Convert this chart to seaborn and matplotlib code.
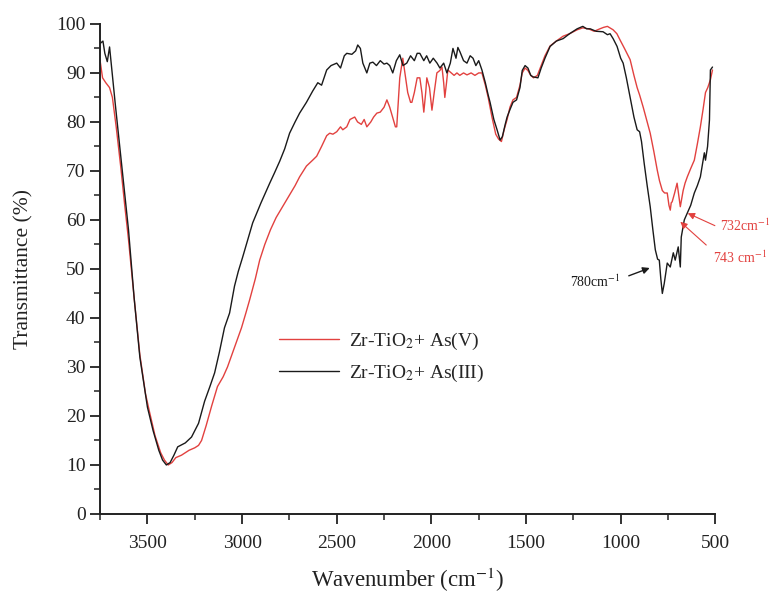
import seaborn as sns
import matplotlib
matplotlib.use("Agg")
import matplotlib.pyplot as plt
from matplotlib.ticker import MultipleLocator
import pandas as pd

# FTIR spectra: wavenumber (cm-1) and transmittance (%)
wn_as3 = [3750, 3735, 3725, 3712, 3700, 3670, 3650, 3630, 3600, 3570, 3540, 3500,
          3470, 3440, 3420, 3400, 3380, 3360, 3340, 3300, 3267, 3230, 3198, 3170,
          3145, 3120, 3093, 3066, 3040, 3020, 2997, 2970, 2944, 2900, 2854, 2830,
          2801, 2775, 2749, 2720, 2696, 2660, 2627, 2600, 2580, 2553, 2530, 2500,
          2480, 2460, 2447, 2420, 2400, 2389, 2375, 2362, 2341, 2325, 2309, 2290,
          2270, 2250, 2235, 2220, 2204, 2185, 2167, 2150, 2130, 2110, 2090, 2075,
          2061, 2040, 2025, 2008, 1990, 1970, 1955, 1935, 1918, 1900, 1886, 1870,
          1860, 1849, 1830, 1812, 1795, 1780, 1765, 1750, 1733, 1715, 1700, 1690,
          1670, 1653, 1637, 1625, 1610, 1600, 1585, 1569, 1550, 1532, 1520, 1505,
          1490, 1475, 1463, 1437, 1420, 1400, 1373, 1340, 1304, 1270, 1230, 1200,
          1180, 1161, 1130, 1093, 1070, 1056, 1040, 1019, 1000, 987, 970, 950,
          930, 913, 900, 890, 876, 860, 844, 830, 817, 805, 796, 788, 780, 770,
          754, 738, 722, 712, 696, 685, 680, 664, 648, 630, 611, 595, 579, 565,
          558, 552, 541, 531, 526, 515]
t_as3 = [96, 96.5, 94, 92.3, 95.3, 83.7, 76.3, 69, 58, 44, 32, 21.8,
         17, 13, 11, 10, 10.5, 12, 13.7, 14.5, 15.7, 18.5, 23, 26,
         28.8, 33, 38, 41, 46.5, 49.5, 52.4, 56, 59.4, 63.5, 67.5, 69.5,
         72, 74.5, 77.7, 80, 81.8, 84, 86.3, 88, 87.5, 90.6, 91.5, 92,
         91, 93.5, 94, 93.8, 94.5, 95.7, 95, 92, 90, 92, 92.2, 91.5,
         92.5, 91.8, 92, 91.5, 90, 92.5, 93.7, 91.5, 92, 93.5, 92.5, 94,
         94, 92.5, 93.5, 92, 93, 92, 91, 92, 90, 92, 95, 93,
         95.2, 94.3, 92.5, 92, 93.5, 93, 91.5, 92.5, 90.6, 88, 85.5, 84,
         80.5, 78.4, 76.3, 77, 79.5, 81, 82.5, 84, 84.5, 87, 90.5, 91.5,
         91, 89.5, 89.2, 89, 91, 93, 95.4, 96.5, 97, 98, 99, 99.5,
         99, 99, 98.5, 98.4, 97.8, 98, 97, 95.4, 93, 92, 89, 85,
         81, 78.4, 78, 76, 71.6, 67, 62.7, 58, 53.9, 52, 51.8, 48, 45, 47,
         51.2, 50.4, 53.3, 51.8, 54.5, 50.4, 56.5, 60, 61.4, 63, 65.5, 67, 68.8, 72,
         73.7, 72.2, 75, 80.4, 90.6, 91.2]

wn_as5 = [3750, 3737, 3720, 3700, 3685, 3665, 3640, 3620, 3600, 3570, 3540, 3510,
          3490, 3460, 3430, 3410, 3390, 3370, 3350, 3320, 3300, 3280, 3250, 3230,
          3214, 3190, 3161, 3130, 3100, 3077, 3040, 3003, 2980, 2960, 2930, 2907,
          2880, 2850, 2820, 2786, 2750, 2720, 2696, 2660, 2627, 2606, 2580, 2553,
          2537, 2520, 2500, 2480, 2468, 2447, 2430, 2405, 2390, 2370, 2355, 2341,
          2320, 2305, 2288, 2270, 2250, 2235, 2220, 2205, 2190, 2183, 2175, 2167,
          2151, 2140, 2125, 2110, 2103, 2090, 2075, 2061, 2050, 2040, 2030, 2024,
          2010, 1997, 1985, 1971, 1955, 1944, 1935, 1929, 1920, 1913, 1895, 1880,
          1865, 1850, 1830, 1812, 1790, 1770, 1750, 1733, 1715, 1700, 1680, 1660,
          1645, 1630, 1615, 1600, 1585, 1569, 1550, 1532, 1520, 1505, 1490, 1475,
          1460, 1440, 1420, 1400, 1373, 1340, 1304, 1270, 1230, 1200, 1170, 1140,
          1110, 1090, 1070, 1040, 1020, 1003, 980, 950, 930, 913, 900, 881,
          860, 844, 825, 807, 795, 780, 768, 754, 745, 738, 733, 728,
          715, 702, 693, 685, 670, 660, 648, 630, 611, 595, 579, 565,
          552, 540, 526, 515]
t_as5 = [92.5, 89, 88, 87, 85, 79, 70.5, 63, 56, 44, 32.5, 24.5,
         21, 16, 12.5, 11, 10, 10.5, 11.5, 12, 12.5, 13, 13.5, 14,
         15, 18, 22, 26, 28, 30, 34, 38, 41, 43.7, 48, 51.8,
         55, 58, 60.5, 62.7, 65, 67, 68.8, 71, 72.2, 73, 75, 77.2,
         77.7, 77.5, 78, 79, 78.4, 79, 80.5, 81, 80, 79.5, 80.5, 79,
         80, 81, 81.8, 82, 83, 84.5, 83, 81, 79, 79, 84, 89,
         93, 90, 86, 84, 84, 86, 89, 89, 86, 82, 86, 89,
         87, 82.4, 86, 90, 90.5, 91.2, 88, 85, 88, 90.6, 90, 89.5,
         90, 89.5, 90, 89.6, 90, 89.5, 90, 90, 87.5, 85, 81, 77.5,
         76.5, 76, 78.5, 80.5, 83, 84.5, 85, 87.5, 90, 91, 90.5, 89.5,
         89, 89.5, 91.5, 93.5, 95.5, 96.5, 97.5, 98, 98.8, 99.2, 99, 98.5,
         99, 99.3, 99.5, 98.8, 98, 96.7, 95, 92.7, 89.5, 87, 85.5, 83,
         80, 77.7, 74, 70.2, 68, 66, 65.5, 65.5, 63, 62, 63.5, 63.7,
         65.5, 67.5, 65, 62.7, 66, 67.5, 68.8, 70.5, 72.2, 75.5, 79, 82.5,
         86, 87, 88.6, 90.6]

label_as5 = "Zr-TiO$_2$+ As(V)"
label_as3 = "Zr-TiO$_2$+ As(III)"

df = pd.concat([
    pd.DataFrame({"wn": wn_as5, "T": t_as5, "sample": label_as5}),
    pd.DataFrame({"wn": wn_as3, "T": t_as3, "sample": label_as3}),
])

sns.set_theme(style="ticks")
plt.rcParams["font.family"] = ["Liberation Serif", "DejaVu Serif"]
plt.rcParams["mathtext.fontset"] = "stix"

fig = plt.figure(figsize=(7.7, 5.98), dpi=100)
ax = fig.add_axes([0.130, 0.1405, 0.799, 0.8195])

sns.lineplot(data=df, x="wn", y="T", hue="sample", sort=False, estimator=None,
             palette={label_as5: "#e2413f", label_as3: "#1a1a1a"},
             linewidth=1.0, ax=ax)

ax.set_xlim(3750, 500)
ax.set_ylim(0, 100)
ax.xaxis.set_major_locator(MultipleLocator(500))
ax.xaxis.set_minor_locator(MultipleLocator(250))
ax.yaxis.set_major_locator(MultipleLocator(10))
ax.yaxis.set_minor_locator(MultipleLocator(5))
ax.tick_params(which="major", direction="out", length=7, width=1.3, labelsize=14, colors="#222222")
ax.tick_params(axis="x", which="major", pad=8)
ax.tick_params(which="minor", direction="out", length=4, width=1.1, colors="#222222")
for side in ["top", "right"]:
    ax.spines[side].set_visible(False)
for side in ["left", "bottom"]:
    ax.spines[side].set_linewidth(1.4)
    ax.spines[side].set_color("#222222")

ax.set_xlabel("Wavenumber (cm$^{-1}$)", fontsize=16.5, color="#222222")
ax.set_ylabel("Transmittance (%)", fontsize=15.5, color="#222222")
ax.xaxis.set_label_coords(0.5, -0.105)
ax.yaxis.set_label_coords(-0.108, 0.5)

ax.legend(frameon=False, loc="center left", bbox_to_anchor=(0.275, 0.32),
          fontsize=14, handlelength=3.1, handletextpad=0.5, labelspacing=0.55, borderpad=0)

# peak annotations
ax.annotate("", xy=(833, 50.4), xytext=(971, 48.4),
            arrowprops=dict(arrowstyle="-|>", color="#1a1a1a", lw=1, mutation_scale=10))
ax.text(1003, 47.3, "780cm$^{-1}$", color="#1a1a1a", fontsize=10, ha="right", va="center")

ax.annotate("", xy=(659, 61.6), xytext=(489, 58.6), annotation_clip=False,
            arrowprops=dict(arrowstyle="-|>", color="#e2413f", lw=0.8, mutation_scale=10))
ax.annotate("", xy=(696, 60), xytext=(537, 54.5), annotation_clip=False,
            arrowprops=dict(arrowstyle="-|>", color="#e2413f", lw=0.8, mutation_scale=10))
ax.text(474, 58.8, "732cm$^{-1}$", color="#e2413f", fontsize=10, ha="left", va="center", clip_on=False)
ax.text(511, 52.2, "743 cm$^{-1}$", color="#e2413f", fontsize=10, ha="left", va="center", clip_on=False)

fig.savefig("out.png", dpi=100)
